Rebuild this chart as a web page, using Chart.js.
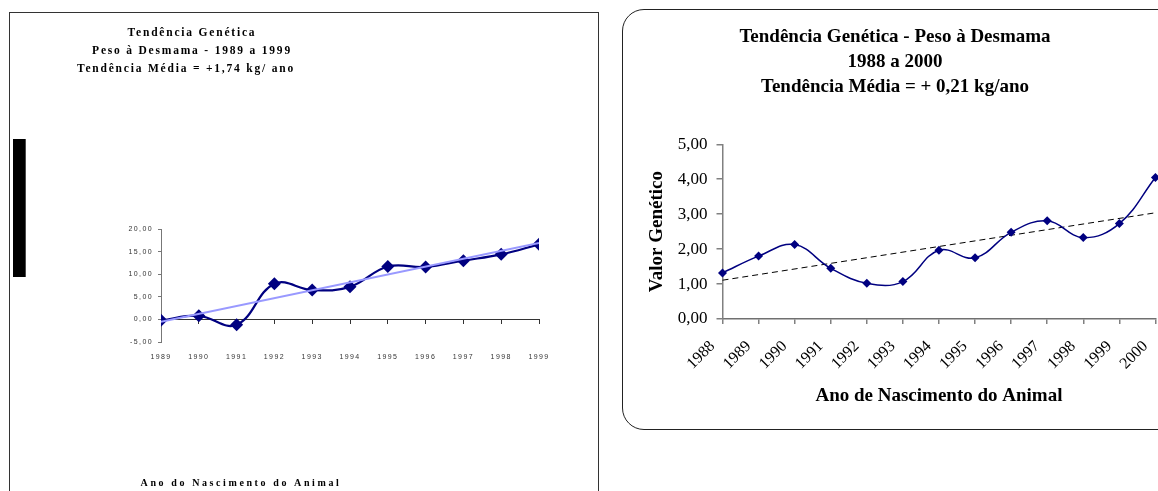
<!DOCTYPE html>
<html>
<head>
<meta charset="utf-8">
<script src="https://cdn.jsdelivr.net/npm/chart.js@4/dist/chart.umd.min.js"></script>
<style>
  html, body { margin: 0; padding: 0; background: #fff; width: 1158px; height: 491px; overflow: hidden; position: relative; }
  #boxA { position: absolute; left: 9px; top: 12px; width: 590px; height: 600px; border: 1px solid #333; box-sizing: border-box; }
  #wrapA { position: absolute; left: 0; top: 0; }
  #boxB { position: absolute; left: 622px; top: 9px; width: 580px; height: 421px; border: 1.5px solid #222; border-radius: 22px; box-sizing: border-box; }
  #wrapB { position: absolute; left: 620px; top: 0; }
  canvas { display: block; }
</style>
</head>
<body>
<div id="boxA"></div>
<div id="wrapA"><canvas id="cA" width="600" height="491"></canvas></div>
<div id="boxB"></div>
<div id="wrapB"><canvas id="cB" width="562" height="440"></canvas></div>
<script>
// Peso à Desmama, 1989 a 1999
const anosA = ['1989', '1990', '1991', '1992', '1993', '1994', '1995', '1996', '1997', '1998', '1999'];
const pesoA = [-0.2, 0.8, -1.2, 7.9, 6.5, 7.2, 11.7, 11.6, 13.0, 14.4, 16.6];
const tendenciaA = [-0.5, 16.9];          // reta de tendência nos anos extremos
const escalaA = { min: -5, max: 20, passo: 5 };
const titulosA = ['Tendência Genética', 'Peso à Desmama - 1989 a 1999', 'Tendência Média = +1,74 kg/ ano'];
const eixoXA = 'Ano do Nascimento do Animal';

// Peso à Desmama, 1988 a 2000
const anosB = ['1988', '1989', '1990', '1991', '1992', '1993', '1994', '1995', '1996', '1997', '1998', '1999', '2000'];
const valorB = [1.32, 1.80, 2.13, 1.45, 1.02, 1.07, 1.97, 1.75, 2.48, 2.81, 2.33, 2.73, 4.05];
const tendenciaB = [1.11, 3.04];          // reta de tendência nos anos extremos
const escalaB = { min: 0, max: 5, passo: 1 };
const titulosB = ['Tendência Genética - Peso à Desmama', '1988 a 2000', 'Tendência Média = + 0,21 kg/ano'];
const eixoYB = 'Valor Genético';
const eixoXB = 'Ano de Nascimento do Animal';

const SERIF = '"Liberation Serif", "Times New Roman", Times, serif';
const SANS = '"Liberation Sans", Arial, sans-serif';
const virgula = v => Number(v).toFixed(2).replace('.', ',');

// ---------- Gráfico A ----------
const decorA = {
  id: 'decorA',
  beforeLayout(chart) { chart.ctx.letterSpacing = '1.4px'; },
  beforeDraw(chart) { chart.ctx.letterSpacing = '1.4px'; },
  afterDraw(chart) {
    const ctx = chart.ctx;
    ctx.save();
    // faixa preta do rótulo vertical
    ctx.fillStyle = '#000';
    ctx.fillRect(13, 139, 12.7, 138);
    ctx.textAlign = 'center';
    ctx.textBaseline = 'middle';
    ctx.fillStyle = '#000';
    ctx.font = 'bold 11.5px ' + SERIF;
    ctx.letterSpacing = '1.8px';
    ctx.fillText(titulosA[0], 192, 33);
    ctx.fillText(titulosA[1], 192, 51);
    ctx.fillText(titulosA[2], 186, 69);
    ctx.font = 'bold 10px ' + SERIF;
    ctx.letterSpacing = '2.6px';
    ctx.fillText(eixoXA, 241, 483);
    ctx.restore();
  }
};

new Chart(document.getElementById('cA'), {
  type: 'line',
  data: {
    labels: anosA,
    datasets: [
      {
        label: 'Tendência',
        data: [{ x: anosA[0], y: tendenciaA[0] }, { x: anosA[anosA.length - 1], y: tendenciaA[1] }],
        borderColor: '#9999FF',
        borderWidth: 2,
        pointRadius: 0,
        tension: 0,
        order: 0
      },
      {
        label: 'Peso à Desmama',
        data: pesoA,
        borderColor: '#000080',
        backgroundColor: '#000080',
        borderWidth: 2.2,
        pointStyle: 'rectRot',
        pointRadius: 6.5,
        pointBorderWidth: 0,
        tension: 0.4,
        order: 1
      }
    ]
  },
  options: {
    responsive: false,
    animation: false,
    layout: { padding: { left: 0, right: 61, top: 229, bottom: 0 } },
    plugins: { legend: { display: false }, tooltip: { enabled: false }, title: { display: false } },
    scales: {
      x: {
        type: 'category',
        position: 'bottom',
        offset: false,
        min: anosA[0], max: anosA[anosA.length - 1],
        grid: { display: false, drawTicks: false },
        border: { display: false },
        ticks: { font: { family: SANS, size: 7 }, color: '#333', padding: 11, autoSkip: false, maxRotation: 0 },
        afterFit(scale) { scale.height = 149; }
      },
      xZero: {
        type: 'category',
        labels: anosA,
        position: { y: 0 },
        offset: false,
        min: anosA[0], max: anosA[anosA.length - 1],
        grid: { drawOnChartArea: false, tickLength: 4, color: '#333', lineWidth: 1 },
        border: { color: '#333', width: 1 },
        ticks: { display: false }
      },
      y: {
        min: escalaA.min, max: escalaA.max,
        grid: { drawOnChartArea: false, tickLength: 3, color: '#777', lineWidth: 1 },
        border: { color: '#777', width: 1 },
        ticks: { stepSize: escalaA.passo, font: { family: SANS, size: 7 }, color: '#333', padding: 5, callback: virgula },
        afterFit(scale) { scale.width = 161; }
      }
    }
  },
  plugins: [decorA]
});

// ---------- Gráfico B ----------
new Chart(document.getElementById('cB'), {
  type: 'line',
  data: {
    labels: anosB,
    datasets: [
      {
        label: 'Valor Genético',
        data: valorB,
        borderColor: '#000080',
        backgroundColor: '#000080',
        borderWidth: 1.5,
        pointStyle: 'rectRot',
        pointRadius: 4.5,
        pointBorderWidth: 0,
        tension: 0.4,
        order: 0
      },
      {
        label: 'Tendência',
        data: [{ x: anosB[0], y: tendenciaB[0] }, { x: anosB[anosB.length - 1], y: tendenciaB[1] }],
        borderColor: '#000',
        borderWidth: 1,
        borderDash: [6, 4],
        pointRadius: 0,
        tension: 0,
        order: 1
      }
    ]
  },
  options: {
    responsive: false,
    animation: false,
    layout: { padding: { left: 12, right: 24, top: 0, bottom: 0 } },
    plugins: {
      legend: { display: false },
      tooltip: { enabled: false },
      title: {
        display: true,
        text: titulosB,
        color: '#000',
        font: { family: SERIF, size: 19, weight: 'bold', lineHeight: '25px' },
        padding: { top: 24.2, bottom: 45.1 }
      }
    },
    scales: {
      x: {
        type: 'category',
        offset: false,
        grid: { drawOnChartArea: false, tickLength: 5, color: '#808080', lineWidth: 1.5 },
        border: { color: '#707070', width: 1.5 },
        ticks: { font: { family: SERIF, size: 16 }, color: '#000', autoSkip: false, minRotation: 45, maxRotation: 45, padding: 13, labelOffset: -10 },
        title: { display: true, text: eixoXB, color: '#000', font: { family: SERIF, size: 19, weight: 'bold' }, padding: { top: 0, bottom: 33 } },
        afterFit(scale) { scale.height = 121; }
      },
      y: {
        min: escalaB.min, max: escalaB.max,
        grid: { drawOnChartArea: false, tickLength: 6, color: '#808080', lineWidth: 1.5 },
        border: { color: '#808080', width: 1.5 },
        ticks: { stepSize: escalaB.passo, font: { family: SERIF, size: 17 }, color: '#000', padding: 9, callback: virgula },
        title: { display: true, text: eixoYB, color: '#000', font: { family: SERIF, size: 19, weight: 'bold' }, padding: { top: 13.3, bottom: 0 } },
        afterFit(scale) { scale.width = 90.5; }
      }
    }
  }
});
</script>
</body>
</html>
